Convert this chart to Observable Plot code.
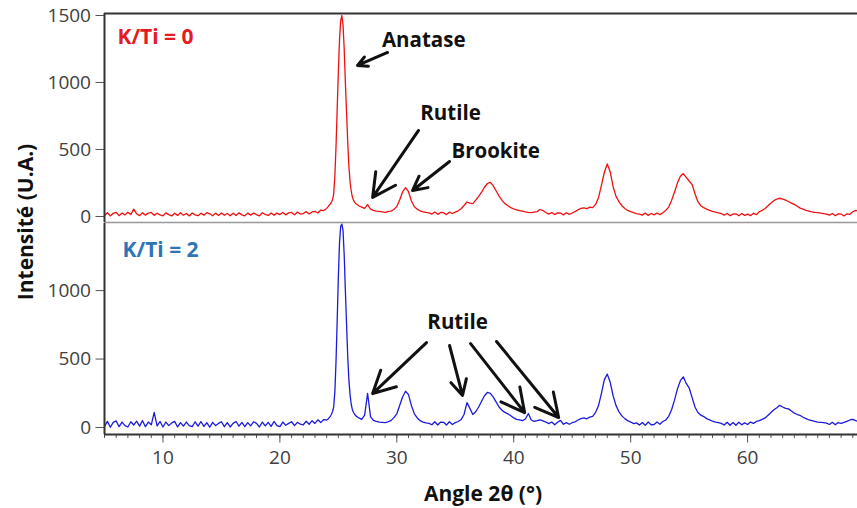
<!DOCTYPE html>
<html>
<head>
<meta charset="utf-8">
<script src="https://cdn.jsdelivr.net/npm/d3@7"></script>
<script src="https://cdn.jsdelivr.net/npm/@observablehq/plot@0.6"></script>
<style>
  html, body { margin: 0; padding: 0; background: #fff; overflow: hidden; }
  #chart { position: relative; width: 857px; height: 508px; font-family: "Open Sans", sans-serif; }
  #chart svg { display: block; }
  .ytitle { position: absolute; left: 25px; top: 222px; transform: translate(-50%, -50%) rotate(-90deg);
            font-weight: 700; font-size: 21px; color: #111; white-space: nowrap; }
  .xtitle { position: absolute; left: 483px; top: 493px; transform: translate(-50%, -50%);
            font-weight: 700; font-size: 21px; color: #111; white-space: nowrap; }
</style>
</head>
<body>
<div id="chart"></div>
<script>
// ---- data ----
const angle = [
  5,5.25,5.5,5.75, 6,6.25,6.5,6.75, 7,7.25,7.5,7.75, 8,8.25,8.5,8.75, 9,9.25,9.5,9.75,
  10,10.25,10.5,10.75, 11,11.25,11.5,11.75, 12,12.25,12.5,12.75, 13,13.25,13.5,13.75, 14,14.25,14.5,14.75,
  15,15.25,15.5,15.75, 16,16.25,16.5,16.75, 17,17.25,17.5,17.75, 18,18.25,18.5,18.75, 19,19.25,19.5,19.75,
  20,20.25,20.5,20.75, 21,21.25,21.5,21.75, 22,22.25,22.5,22.75, 23,23.25,23.5,23.75, 24,
  24.1,24.2,24.3,24.4,24.5,24.6,24.7,24.8,24.9,25,25.1,25.2,25.3,25.4,25.5,25.6,25.7,25.8,25.9,26,26.1,26.2,26.3,26.4,26.5,
  26.75,
  27,27.25,27.5,27.75, 28,28.25,28.5,28.75, 29,29.25,29.5,29.75, 30,30.25,30.5,30.75, 31,31.25,31.5,31.75,
  32,32.25,32.5,32.75, 33,33.25,33.5,33.75, 34,34.25,34.5,34.75, 35,35.25,35.5,35.75, 36,36.25,36.5,36.75,
  37,37.25,37.5,37.75, 38,38.25,38.5,38.75, 39,39.25,39.5,39.75, 40,40.25,40.5,40.75, 41,41.25,41.5,41.75,
  42,42.25,42.5,42.75, 43,43.25,43.5,43.75, 44,44.25,44.5,44.75, 45,45.25,45.5,45.75, 46,46.25,46.5,46.75,
  47,47.25,47.5,47.75, 48,48.25,48.5,48.75, 49,49.25,49.5,49.75, 50,50.25,50.5,50.75, 51,51.25,51.5,51.75,
  52,52.25,52.5,52.75, 53,53.25,53.5,53.75, 54,54.25,54.5,54.75, 55,55.25,55.5,55.75, 56,56.25,56.5,56.75,
  57,57.25,57.5,57.75, 58,58.25,58.5,58.75, 59,59.25,59.5,59.75, 60,60.25,60.5,60.75, 61,61.25,61.5,61.75,
  62,62.25,62.5,62.75, 63,63.25,63.5,63.75, 64,64.25,64.5,64.75, 65,65.25,65.5,65.75, 66,66.25,66.5,66.75,
  67,67.25,67.5,67.75, 68,68.25,68.5,68.75, 69,69.25,69.5
];

// K/Ti = 0 (red)
const kti0 = [
  8,28,4,24, 30,6,26,12, 32,14,55,20, 6,28,10,25, 30,8,24,12,
  5,27,14,4, 24,8,28,10, 22,4,26,12, 6,24,10,28, 20,5,25,8,
  26,9,22,5, 24,8,27,12, 5,25,10,26, 14,4,28,15, 8,26,10,25,
  14,30,12,27, 30,12,33,18, 22,36,18,34, 38,26,48,44, 60,
  70,82,92,105,125,165,300,520,800,1080,1320,1460,1500,1430,1250,1000,780,560,380,260,190,145,120,105,95,
  80,
  70,60,88,55, 46,40,38,34, 30,36,40,52, 75,125,185,215, 185,115,72,54,
  42,34,30,27, 18,34,16,30, 28,14,32,22, 32,42,58,82, 108,100,96,122,
  150,182,218,246, 255,228,190,152, 120,96,80,66, 56,50,44,40, 35,31,28,32,
  36,52,44,30, 18,30,14,27, 26,12,28,16, 26,36,50,60, 64,58,70,66,
  90,140,232,330, 392,332,222,150, 110,80,60,45, 36,28,22,18, 10,26,8,22,
  12,26,14,28, 45,70,120,182, 250,300,320,292, 265,240,170,110, 80,66,55,45,
  38,32,27,22, 10,22,6,18, 20,5,22,8, 18,6,24,14, 35,46,60,80,
  100,118,130,136, 130,122,112,100, 90,76,62,55, 45,40,35,31, 28,25,22,18,
  10,22,6,20, 18,4,20,16, 35,45,40
];

// K/Ti = 2 (blue)
const kti2 = [
  8,45,2,38, 48,6,40,14, 4,42,18,46, 10,50,6,40, 20,110,12,44,
  4,40,14,34, 45,4,36,10, 40,14,6,42, 10,44,8,35, 2,38,14,30,
  42,6,36,4, 30,44,10,38, 6,36,12,42, 30,4,40,12, 38,8,44,14,
  6,40,16,30, 42,14,38,24, 20,46,24,50, 30,56,36,58, 55,
  60,70,80,95,115,150,260,480,780,1100,1350,1470,1485,1440,1260,1000,760,520,350,240,170,130,110,95,85,
  70,
  60,90,250,80, 52,45,40,38, 35,42,50,72, 100,162,225,265, 240,160,100,70,
  50,40,34,30, 20,42,18,40, 38,18,42,22, 36,44,58,95, 182,140,95,115,
  150,192,232,256, 250,222,186,150, 125,110,100,86, 70,60,55,50, 62,102,55,45,
  50,56,48,40, 28,40,20,38, 52,24,36,24, 35,42,55,65, 70,64,76,82,
  110,160,250,350, 390,330,232,160, 115,85,65,50, 40,28,34,18, 36,16,40,20,
  22,40,24,44, 55,82,130,200, 282,342,370,322, 290,220,150,110, 90,80,65,56,
  46,40,35,30, 18,38,16,36, 16,38,20,34, 22,40,30,44, 50,60,70,90,
  110,130,145,162, 150,140,136,120, 105,95,88,75, 65,55,50,45, 40,38,35,32,
  22,38,20,36, 30,38,45,55, 60,50,45
];

const xTicks = [10, 20, 30, 40, 50, 60];
const xMinorTicks = [5,6,7,8,9,10,11,12,13,14,15,16,17,18,19,20,21,22,23,24,25,26,27,28,29,30,31,32,33,34,35,36,37,38,39,40,41,42,43,44,45,46,47,48,49,50,51,52,53,54,55,56,57,58,59,60,61,62,63,64,65,66,67,68,69];
const yTicksTop = [0, 500, 1000, 1500];
const yTicksBottom = [0, 500, 1000];
const panelLabels = ["K/Ti = 0", "K/Ti = 2"];

// annotations (data coordinates)
const topLabels = [
  {text: "Anatase", x: 32.3, y: 1313},
  {text: "Rutile", x: 34.6, y: 769},
  {text: "Brookite", x: 38.45, y: 485}
];
const topArrows = [
  {x1: 29.21, y1: 1224, x2: 26.64, y2: 1127},
  {x1: 31.86, y1: 642, x2: 27.93, y2: 142},
  {x1: 34.51, y1: 410, x2: 31.35, y2: 194}
];
const bottomLabels = [{text: "Rutile", x: 35.2, y: 766}];
const bottomArrows = [
  {x1: 32.54, y1: 620, x2: 27.93, y2: 248},
  {x1: 34.51, y1: 599, x2: 35.62, y2: 234},
  {x1: 36.31, y1: 613, x2: 40.93, y2: 109},
  {x1: 38.53, y1: 628, x2: 43.84, y2: 73}
];

if (kti0.length !== angle.length || kti2.length !== angle.length) {
  throw new Error(`length mismatch: angle ${angle.length}, kti0 ${kti0.length}, kti2 ${kti2.length}`);
}

const rows0 = angle.map((a, i) => ({angle: a, value: kti0[i]}));
const rows2 = angle.map((a, i) => ({angle: a, value: kti2[i]}));

const XDOM = [5, 69.4];
const baseStyle = {fontFamily: "'Open Sans', sans-serif", fontSize: "19px", color: "#404040", background: "transparent", overflow: "visible"};
const axisOpts = {tickSize: 8.5, tickPadding: 5, fontSize: 19, label: null, stroke: "#555", fill: "#404040", tickFormat: "d"};
const arrowOpts = {x1: "x1", y1: "y1", x2: "x2", y2: "y2", stroke: "#111", strokeWidth: 3, headLength: 13, headAngle: 55};
const labelOpts = {x: "x", y: "y", text: "text", fontWeight: 700, fontSize: 20.5, fill: "#111"};

const topPlot = Plot.plot({
  width: 857, height: 223,
  marginTop: 13, marginBottom: 1, marginLeft: 104, marginRight: 0,
  x: {domain: XDOM, axis: null},
  y: {domain: [-45, 1515], label: null},
  style: baseStyle,
  marks: [
    Plot.axisY(yTicksTop, axisOpts),
    Plot.line(rows0, {x: "angle", y: "value", stroke: "#ee1111", strokeWidth: 1.3, clip: true}),
    Plot.ruleY([1515], {stroke: "#333", strokeWidth: 2}),
    Plot.ruleY([-45], {stroke: "#999", strokeWidth: 1.5}),
    Plot.ruleX([5], {stroke: "#333", strokeWidth: 2}),
    Plot.text([panelLabels[0]], {x: 6.11, y: 1336, text: d => d, textAnchor: "start", fontWeight: 700, fontSize: 21, fill: "#e31b23"}),
    Plot.arrow(topArrows, arrowOpts),
    Plot.text(topLabels, labelOpts)
  ]
});

const bottomPlot = Plot.plot({
  width: 857, height: 285,
  marginTop: 0, marginBottom: 74, marginLeft: 104, marginRight: 0,
  x: {domain: XDOM, label: null},
  y: {domain: [-51, 1490], label: null},
  style: baseStyle,
  marks: [
    Plot.axisY(yTicksBottom, axisOpts),
    Plot.axisX(xMinorTicks, {tickSize: 4, tickFormat: () => "", label: null, stroke: "#555"}),
    Plot.axisX(xTicks, {tickSize: 8.5, tickPadding: 7, fontSize: 19, label: null, stroke: "#555", fill: "#404040"}),
    Plot.line(rows2, {x: "angle", y: "value", stroke: "#1b1bdd", strokeWidth: 1.3, clip: true}),
    Plot.ruleY([-51], {stroke: "#333", strokeWidth: 2}),
    Plot.ruleX([5], {stroke: "#333", strokeWidth: 2}),
    Plot.text([panelLabels[1]], {x: 6.54, y: 1292, text: d => d, textAnchor: "start", fontWeight: 700, fontSize: 21, fill: "#2e75b6"}),
    Plot.arrow(bottomArrows, arrowOpts),
    Plot.text(bottomLabels, labelOpts)
  ]
});

const chart = document.getElementById("chart");
chart.append(topPlot, bottomPlot);
const yt = document.createElement("div");
yt.className = "ytitle";
yt.textContent = "Intensité (U.A.)";
const xt = document.createElement("div");
xt.className = "xtitle";
xt.textContent = "Angle 2θ (°)";
chart.append(yt, xt);
</script>
</body>
</html>
